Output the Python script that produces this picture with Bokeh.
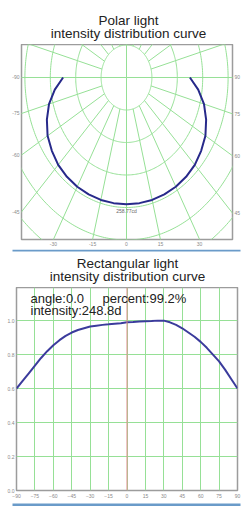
import numpy as np
from bokeh.plotting import figure
from bokeh.layouts import column
from bokeh.models import LinearAxis, FixedTicker, Label, Span
from bokeh.embed import file_html
from bokeh.resources import INLINE
from bokeh.core.properties import value

# ---------------- data ----------------
polar_title = ["Polar light", "intensity distribution curve"]
rect_title = ["Rectangular light", "intensity distribution curve"]

polar_angles = [-90, -82.5, -75, -67.5, -60, -52.5, -45, -37.5, -30, -22.5, -15, -7.5,
                0, 7.5, 15, 22.5, 30, 37.5, 45, 52.5, 60, 67.5, 75, 82.5, 90]
polar_rel = [0.64, 0.73, 0.81, 0.87, 0.92, 0.95, 0.975, 0.988, 0.995, 0.998, 1.0, 1.0,
             1.0, 1.0, 1.0, 0.998, 0.995, 0.988, 0.975, 0.95, 0.92, 0.87, 0.81, 0.73, 0.64]
polar_peak_label = "258.77cd"
polar_left_labels = ["-90", "-75", "-60", "-45"]
polar_left_angles = [-90, -75, -60, -45]
polar_right_labels = ["90", "75", "60", "45"]
polar_right_angles = [90, 75, 60, 45]
polar_bottom_labels = ["-30", "-15", "0", "15", "30"]
polar_bottom_angles = [-30, -15, 0, 15, 30]

rect_angles = [-90, -85, -80, -75, -70, -65, -60, -55, -50, -45, -40, -35, -30, -25, -20,
               -15, -10, -5, 0, 5, 10, 15, 20, 25, 30, 35, 40, 45, 50, 55, 60, 65, 70,
               75, 80, 85, 90]
rect_values = [0.60, 0.645, 0.69, 0.735, 0.78, 0.82, 0.855, 0.885, 0.91, 0.93, 0.945,
               0.955, 0.965, 0.97, 0.975, 0.978, 0.982, 0.985, 0.99, 0.992, 0.995, 0.997,
               0.998, 1.0, 1.0, 0.99, 0.975, 0.955, 0.93, 0.905, 0.875, 0.84, 0.80, 0.76,
               0.71, 0.655, 0.60]
rect_xticks = [-90, -75, -60, -45, -30, -15, 0, 15, 30, 45, 60, 75, 90]
rect_yticks = [0.0, 0.2, 0.4, 0.6, 0.8, 1.0]
rect_ytick_labels = ["0.0", "0.2", "0.4", "0.6", "0.8", "1.0"]
info_angle = "angle:0.0"
info_percent = "percent:99.2%"
info_intensity = "intensity:248.8d"

# ---------------- style ----------------
FONT = "Liberation Sans"
GREEN = "#96e096"
FRAME = "#9c9c9c"
TICK_COLOR = "#8a8a8a"
SEP = "#6a9bc9"
W = 246


def style_axis(ax, standoff=2):
    ax.axis_line_color = None
    ax.major_tick_line_color = None
    ax.minor_tick_line_color = None
    ax.major_tick_out = 0
    ax.major_tick_in = 0
    ax.minor_tick_out = 0
    ax.minor_tick_in = 0
    ax.major_label_text_font_size = "5px"
    ax.major_label_text_color = TICK_COLOR
    ax.major_label_text_font = FONT
    ax.major_label_standoff = standoff


def text_fig(h):
    f = figure(width=W, height=h, x_range=(0, W), y_range=(h, 0),
               output_backend="svg", toolbar_location=None,
               x_axis_type=None, y_axis_type=None, min_border=0, frame_align=False)
    f.outline_line_color = None
    return f


# ---------------- top title strip (canvas 0..44) ----------------
t1 = text_fig(44)
t1.text(x=[128, 128], y=[20, 33], text=polar_title, text_font=value(FONT),
        text_font_size="13.5px", text_color="#222222", text_align="center",
        text_baseline="middle")

# ---------------- polar (canvas 44..249) ----------------
XMIN, XMAX, YMIN, YMAX = -4.134, 4.173, -4.985, 1.015
R_SCALE = 3.9
rings = [1, 2, 3, 4, 5, 6, 7]
spoke_angles = list(range(0, 360, 15))

p1 = figure(width=W, height=205, x_range=(XMIN, XMAX), y_range=(YMIN, YMAX),
            output_backend="svg", toolbar_location=None,
            x_axis_type=None, y_axis_type=None, frame_align=False,
            min_border_left=21, min_border_right=14, min_border_top=0,
            min_border_bottom=10)
p1.outline_line_color = FRAME
p1.outline_line_width = 1.5

t = np.linspace(0, 2 * np.pi, 361)
p1.multi_line([list(r * np.sin(t)) for r in rings], [list(r * np.cos(t)) for r in rings],
              line_color=GREEN, line_width=1)
sx0, sy0, sx1, sy1 = [], [], [], []
for a in spoke_angles:
    ar = np.radians(a)
    r0 = 0 if a % 90 == 0 else 1
    sx0.append(r0 * np.sin(ar)); sy0.append(-r0 * np.cos(ar))
    sx1.append(9 * np.sin(ar)); sy1.append(-9 * np.cos(ar))
p1.segment(sx0, sy0, sx1, sy1, line_color=GREEN, line_width=1)

pa = np.radians(np.array(polar_angles))
pr = np.array(polar_rel) * R_SCALE
p1.line(pr * np.sin(pa), -pr * np.cos(pa), line_color="#27298a", line_width=2)
p1.text(x=[0], y=[-4.12], text=[polar_peak_label], text_font=value(FONT),
        text_font_size="5px", text_color="#666666", text_align="center",
        text_baseline="middle")

left_ticks = [round(-XMIN / np.tan(np.radians(a)), 6) for a in polar_left_angles]
lax = LinearAxis(ticker=FixedTicker(ticks=left_ticks),
                 major_label_overrides=dict(zip(left_ticks, polar_left_labels)))
style_axis(lax)
p1.add_layout(lax, "left")

right_ticks = [round(-XMAX / np.tan(np.radians(a)), 6) for a in polar_right_angles]
rax = LinearAxis(ticker=FixedTicker(ticks=right_ticks),
                 major_label_overrides=dict(zip(right_ticks, polar_right_labels)))
style_axis(rax)
p1.add_layout(rax, "right")

bottom_ticks = [round(-YMIN * np.tan(np.radians(a)), 6) for a in polar_bottom_angles]
bax = LinearAxis(ticker=FixedTicker(ticks=bottom_ticks),
                 major_label_overrides=dict(zip(bottom_ticks, polar_bottom_labels)))
style_axis(bax)
p1.add_layout(bax, "below")

# ---------------- separator + rect title strip (canvas 249..287) ----------------
mid = text_fig(38)
mid.quad(left=[12], right=[240], top=[0], bottom=[2], fill_color=SEP, line_color=None)
mid.text(x=[127, 127], y=[14, 27], text=rect_title, text_font=value(FONT),
         text_font_size="13.5px", text_color="#222222", text_align="center",
         text_baseline="middle")

# ---------------- rectangular (canvas 287..500) ----------------
p2 = figure(width=W, height=213, x_range=(-90, 90), y_range=(0, 1.195),
            output_backend="svg", toolbar_location=None, frame_align=False,
            min_border_left=16, min_border_right=9, min_border_top=0,
            min_border_bottom=10)
p2.outline_line_color = FRAME
p2.outline_line_width = 1.5
p2.xaxis.ticker = FixedTicker(ticks=rect_xticks)
p2.yaxis.ticker = FixedTicker(ticks=rect_yticks)
p2.yaxis.major_label_overrides = dict(zip(rect_yticks, rect_ytick_labels))
for ax in list(p2.xaxis) + list(p2.yaxis):
    style_axis(ax)
p2.xaxis.major_label_standoff = 3
p2.xgrid.ticker = FixedTicker(ticks=rect_xticks)
p2.ygrid.ticker = FixedTicker(ticks=rect_yticks)
p2.xgrid.grid_line_color = GREEN
p2.ygrid.grid_line_color = GREEN
p2.add_layout(Span(location=0, dimension="height", line_color="#e08a8a", line_width=1))
p2.line(rect_angles, rect_values, line_color="#3b3b9c", line_width=2)

for txt, xx, yy in [(info_angle, 14, 192), (info_percent, 86, 192), (info_intensity, 14, 180)]:
    p2.add_layout(Label(x=xx, y=yy, x_units="screen", y_units="screen", text=txt,
                        text_align="left", text_baseline="middle", text_font=FONT,
                        text_font_size="13px", text_color="#222222"))

# ---------------- bottom separator (canvas 500..510) ----------------
bot = text_fig(10)
bot.quad(left=[12], right=[240], top=[1], bottom=[3.5], fill_color=SEP, line_color=None)

layout = column(t1, p1, mid, p2, bot, spacing=0)
open("out.html", "w").write(file_html(layout, INLINE))
